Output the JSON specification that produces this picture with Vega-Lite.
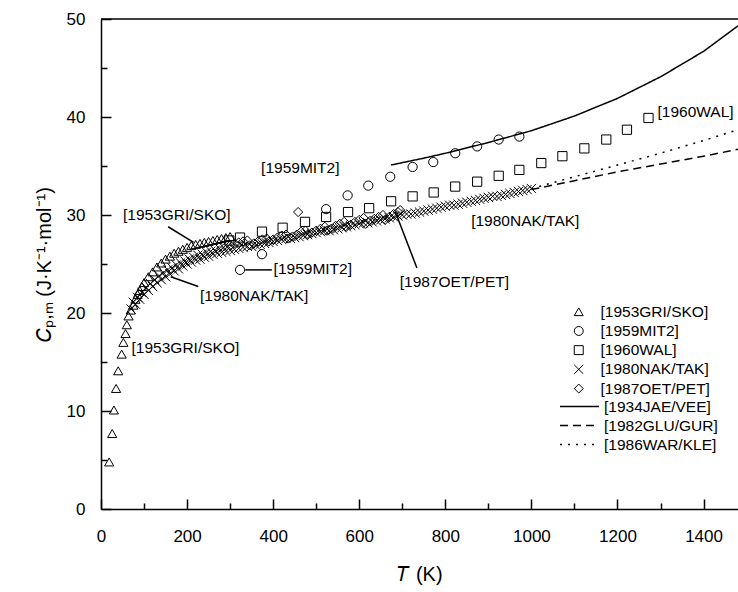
{
"$schema":"https://vega.github.io/schema/vega-lite/v6.json",
"width":637,"height":490,"autosize":"none",
"padding":{"left":101,"top":19,"right":0,"bottom":83},
"config":{"view":{"stroke":null},"font":"Liberation Sans",
"axis":{"domainColor":"black","domainWidth":1.5,"tickColor":"black","tickWidth":1.5,"labelColor":"black","labelFont":"Liberation Sans","labelFontSize":17,"titleFont":"Liberation Sans","titleFontSize":20,"titleFontWeight":"normal","titleColor":"black","grid":false}},
"datasets":{
"pts":[
{"s":"[1953GRI/SKO]","T":19,"C":4.8},{"s":"[1953GRI/SKO]","T":26,"C":7.7},{"s":"[1953GRI/SKO]","T":30,"C":10.1},{"s":"[1953GRI/SKO]","T":35,"C":12.3},{"s":"[1953GRI/SKO]","T":40,"C":14.1},{"s":"[1953GRI/SKO]","T":48,"C":15.8},{"s":"[1953GRI/SKO]","T":52,"C":17.0},{"s":"[1953GRI/SKO]","T":57,"C":17.9},{"s":"[1953GRI/SKO]","T":60,"C":18.8},{"s":"[1953GRI/SKO]","T":64,"C":19.7},{"s":"[1953GRI/SKO]","T":69,"C":20.3},{"s":"[1953GRI/SKO]","T":75,"C":20.8},{"s":"[1953GRI/SKO]","T":80,"C":21.4},{"s":"[1953GRI/SKO]","T":85,"C":21.9},{"s":"[1953GRI/SKO]","T":90,"C":22.3},{"s":"[1953GRI/SKO]","T":95,"C":22.7},{"s":"[1953GRI/SKO]","T":100,"C":23.1},{"s":"[1953GRI/SKO]","T":110,"C":23.7},{"s":"[1953GRI/SKO]","T":120,"C":24.2},{"s":"[1953GRI/SKO]","T":130,"C":24.7},{"s":"[1953GRI/SKO]","T":140,"C":25.1},{"s":"[1953GRI/SKO]","T":150,"C":25.5},{"s":"[1953GRI/SKO]","T":160,"C":25.8},{"s":"[1953GRI/SKO]","T":170,"C":26.1},{"s":"[1953GRI/SKO]","T":180,"C":26.3},{"s":"[1953GRI/SKO]","T":190,"C":26.5},{"s":"[1953GRI/SKO]","T":200,"C":26.7},{"s":"[1953GRI/SKO]","T":210,"C":26.9},{"s":"[1953GRI/SKO]","T":220,"C":27.0},{"s":"[1953GRI/SKO]","T":230,"C":27.1},{"s":"[1953GRI/SKO]","T":240,"C":27.2},{"s":"[1953GRI/SKO]","T":250,"C":27.3},{"s":"[1953GRI/SKO]","T":260,"C":27.4},{"s":"[1953GRI/SKO]","T":270,"C":27.5},{"s":"[1953GRI/SKO]","T":280,"C":27.6},{"s":"[1953GRI/SKO]","T":290,"C":27.7},{"s":"[1953GRI/SKO]","T":300,"C":27.8},
{"s":"[1959MIT2]","T":323,"C":24.4},{"s":"[1959MIT2]","T":374,"C":26.0},{"s":"[1959MIT2]","T":523,"C":30.6},{"s":"[1959MIT2]","T":573,"C":32.0},{"s":"[1959MIT2]","T":621,"C":33.0},{"s":"[1959MIT2]","T":672,"C":33.9},{"s":"[1959MIT2]","T":724,"C":34.9},{"s":"[1959MIT2]","T":772,"C":35.4},{"s":"[1959MIT2]","T":823,"C":36.3},{"s":"[1959MIT2]","T":874,"C":37.0},{"s":"[1959MIT2]","T":924,"C":37.7},{"s":"[1959MIT2]","T":972,"C":38.0},
{"s":"[1960WAL]","T":298,"C":27.4},{"s":"[1960WAL]","T":323,"C":27.7},{"s":"[1960WAL]","T":374,"C":28.3},{"s":"[1960WAL]","T":422,"C":28.7},{"s":"[1960WAL]","T":474,"C":29.3},{"s":"[1960WAL]","T":523,"C":29.8},{"s":"[1960WAL]","T":574,"C":30.3},{"s":"[1960WAL]","T":623,"C":30.7},{"s":"[1960WAL]","T":674,"C":31.4},{"s":"[1960WAL]","T":724,"C":31.9},{"s":"[1960WAL]","T":773,"C":32.3},{"s":"[1960WAL]","T":823,"C":32.9},{"s":"[1960WAL]","T":874,"C":33.4},{"s":"[1960WAL]","T":924,"C":34.0},{"s":"[1960WAL]","T":972,"C":34.6},{"s":"[1960WAL]","T":1023,"C":35.3},{"s":"[1960WAL]","T":1072,"C":36.0},{"s":"[1960WAL]","T":1123,"C":36.8},{"s":"[1960WAL]","T":1174,"C":37.7},{"s":"[1960WAL]","T":1222,"C":38.7},{"s":"[1960WAL]","T":1272,"C":39.9},
{"s":"[1980NAK/TAK]","T":70,"C":20.4},{"s":"[1980NAK/TAK]","T":80,"C":20.9},{"s":"[1980NAK/TAK]","T":90,"C":21.4},{"s":"[1980NAK/TAK]","T":100,"C":21.9},{"s":"[1980NAK/TAK]","T":110,"C":22.3},{"s":"[1980NAK/TAK]","T":120,"C":22.7},{"s":"[1980NAK/TAK]","T":130,"C":23.1},{"s":"[1980NAK/TAK]","T":140,"C":23.4},{"s":"[1980NAK/TAK]","T":150,"C":23.7},{"s":"[1980NAK/TAK]","T":160,"C":24.0},{"s":"[1980NAK/TAK]","T":170,"C":24.3},{"s":"[1980NAK/TAK]","T":180,"C":24.5},{"s":"[1980NAK/TAK]","T":190,"C":24.8},{"s":"[1980NAK/TAK]","T":200,"C":25.0},{"s":"[1980NAK/TAK]","T":210,"C":25.2},{"s":"[1980NAK/TAK]","T":220,"C":25.4},{"s":"[1980NAK/TAK]","T":230,"C":25.5},{"s":"[1980NAK/TAK]","T":240,"C":25.7},{"s":"[1980NAK/TAK]","T":250,"C":25.8},{"s":"[1980NAK/TAK]","T":260,"C":26.0},{"s":"[1980NAK/TAK]","T":270,"C":26.1},{"s":"[1980NAK/TAK]","T":280,"C":26.2},{"s":"[1980NAK/TAK]","T":290,"C":26.3},{"s":"[1980NAK/TAK]","T":300,"C":26.4},
{"s":"[1980NAK/TAK]","T":75,"C":21.1},{"s":"[1980NAK/TAK]","T":85,"C":21.6},{"s":"[1980NAK/TAK]","T":95,"C":22.1},{"s":"[1980NAK/TAK]","T":105,"C":22.6},{"s":"[1980NAK/TAK]","T":115,"C":23.0},{"s":"[1980NAK/TAK]","T":125,"C":23.4},{"s":"[1980NAK/TAK]","T":135,"C":23.8},{"s":"[1980NAK/TAK]","T":145,"C":24.1},{"s":"[1980NAK/TAK]","T":155,"C":24.4},{"s":"[1980NAK/TAK]","T":165,"C":24.6},{"s":"[1980NAK/TAK]","T":175,"C":24.9},{"s":"[1980NAK/TAK]","T":185,"C":25.1},{"s":"[1980NAK/TAK]","T":195,"C":25.3},{"s":"[1980NAK/TAK]","T":205,"C":25.5},{"s":"[1980NAK/TAK]","T":215,"C":25.7},{"s":"[1980NAK/TAK]","T":225,"C":25.9},{"s":"[1980NAK/TAK]","T":235,"C":26.0},{"s":"[1980NAK/TAK]","T":245,"C":26.2},{"s":"[1980NAK/TAK]","T":255,"C":26.3},{"s":"[1980NAK/TAK]","T":265,"C":26.4},{"s":"[1980NAK/TAK]","T":275,"C":26.6},{"s":"[1980NAK/TAK]","T":285,"C":26.7},{"s":"[1980NAK/TAK]","T":295,"C":26.8},
{"s":"[1980NAK/TAK]","T":310,"C":26.5},{"s":"[1980NAK/TAK]","T":320,"C":26.6},{"s":"[1980NAK/TAK]","T":330,"C":26.7},{"s":"[1980NAK/TAK]","T":340,"C":26.8},{"s":"[1980NAK/TAK]","T":350,"C":26.8},{"s":"[1980NAK/TAK]","T":360,"C":26.9},{"s":"[1980NAK/TAK]","T":370,"C":27.0},{"s":"[1980NAK/TAK]","T":380,"C":27.1},{"s":"[1980NAK/TAK]","T":390,"C":27.2},{"s":"[1980NAK/TAK]","T":400,"C":27.3},{"s":"[1980NAK/TAK]","T":410,"C":27.4},{"s":"[1980NAK/TAK]","T":420,"C":27.5},{"s":"[1980NAK/TAK]","T":430,"C":27.6},{"s":"[1980NAK/TAK]","T":440,"C":27.6},{"s":"[1980NAK/TAK]","T":450,"C":27.7},{"s":"[1980NAK/TAK]","T":460,"C":27.8},{"s":"[1980NAK/TAK]","T":470,"C":27.9},{"s":"[1980NAK/TAK]","T":480,"C":28.0},{"s":"[1980NAK/TAK]","T":490,"C":28.1},{"s":"[1980NAK/TAK]","T":500,"C":28.2},{"s":"[1980NAK/TAK]","T":510,"C":28.3},{"s":"[1980NAK/TAK]","T":520,"C":28.4},{"s":"[1980NAK/TAK]","T":530,"C":28.4},{"s":"[1980NAK/TAK]","T":540,"C":28.5},{"s":"[1980NAK/TAK]","T":550,"C":28.6},{"s":"[1980NAK/TAK]","T":560,"C":28.7},{"s":"[1980NAK/TAK]","T":570,"C":28.8},{"s":"[1980NAK/TAK]","T":580,"C":28.9},{"s":"[1980NAK/TAK]","T":590,"C":29.0},{"s":"[1980NAK/TAK]","T":600,"C":29.1},{"s":"[1980NAK/TAK]","T":610,"C":29.2},{"s":"[1980NAK/TAK]","T":620,"C":29.2},{"s":"[1980NAK/TAK]","T":630,"C":29.3},{"s":"[1980NAK/TAK]","T":640,"C":29.4},{"s":"[1980NAK/TAK]","T":650,"C":29.5},{"s":"[1980NAK/TAK]","T":660,"C":29.6},{"s":"[1980NAK/TAK]","T":670,"C":29.7},{"s":"[1980NAK/TAK]","T":680,"C":29.8},{"s":"[1980NAK/TAK]","T":690,"C":29.9},{"s":"[1980NAK/TAK]","T":700,"C":30.0},{"s":"[1980NAK/TAK]","T":710,"C":30.1},{"s":"[1980NAK/TAK]","T":720,"C":30.1},{"s":"[1980NAK/TAK]","T":730,"C":30.2},{"s":"[1980NAK/TAK]","T":740,"C":30.3},{"s":"[1980NAK/TAK]","T":750,"C":30.4},{"s":"[1980NAK/TAK]","T":760,"C":30.5},{"s":"[1980NAK/TAK]","T":770,"C":30.6},{"s":"[1980NAK/TAK]","T":780,"C":30.7},{"s":"[1980NAK/TAK]","T":790,"C":30.8},{"s":"[1980NAK/TAK]","T":800,"C":30.9},{"s":"[1980NAK/TAK]","T":810,"C":31.0},{"s":"[1980NAK/TAK]","T":820,"C":31.0},{"s":"[1980NAK/TAK]","T":830,"C":31.1},{"s":"[1980NAK/TAK]","T":840,"C":31.2},{"s":"[1980NAK/TAK]","T":850,"C":31.3},{"s":"[1980NAK/TAK]","T":860,"C":31.4},{"s":"[1980NAK/TAK]","T":870,"C":31.5},{"s":"[1980NAK/TAK]","T":880,"C":31.6},{"s":"[1980NAK/TAK]","T":890,"C":31.7},{"s":"[1980NAK/TAK]","T":900,"C":31.8},{"s":"[1980NAK/TAK]","T":910,"C":31.9},{"s":"[1980NAK/TAK]","T":920,"C":31.9},{"s":"[1980NAK/TAK]","T":930,"C":32.0},{"s":"[1980NAK/TAK]","T":940,"C":32.1},{"s":"[1980NAK/TAK]","T":950,"C":32.2},{"s":"[1980NAK/TAK]","T":960,"C":32.3},{"s":"[1980NAK/TAK]","T":970,"C":32.4},{"s":"[1980NAK/TAK]","T":980,"C":32.5},{"s":"[1980NAK/TAK]","T":990,"C":32.6},{"s":"[1980NAK/TAK]","T":1000,"C":32.7},
{"s":"[1987OET/PET]","T":300,"C":26.9},{"s":"[1987OET/PET]","T":310,"C":27.1},{"s":"[1987OET/PET]","T":320,"C":27.2},{"s":"[1987OET/PET]","T":330,"C":27.3},{"s":"[1987OET/PET]","T":340,"C":27.4},{"s":"[1987OET/PET]","T":345,"C":26.9},{"s":"[1987OET/PET]","T":355,"C":27.1},{"s":"[1987OET/PET]","T":365,"C":27.3},{"s":"[1987OET/PET]","T":375,"C":27.5},{"s":"[1987OET/PET]","T":385,"C":27.6},{"s":"[1987OET/PET]","T":390,"C":27.3},{"s":"[1987OET/PET]","T":400,"C":27.5},{"s":"[1987OET/PET]","T":410,"C":27.7},{"s":"[1987OET/PET]","T":420,"C":27.9},{"s":"[1987OET/PET]","T":430,"C":28.0},{"s":"[1987OET/PET]","T":435,"C":27.6},{"s":"[1987OET/PET]","T":445,"C":27.8},{"s":"[1987OET/PET]","T":455,"C":28.0},{"s":"[1987OET/PET]","T":465,"C":28.3},{"s":"[1987OET/PET]","T":475,"C":28.4},{"s":"[1987OET/PET]","T":458,"C":30.3},{"s":"[1987OET/PET]","T":480,"C":28.0},{"s":"[1987OET/PET]","T":490,"C":28.2},{"s":"[1987OET/PET]","T":500,"C":28.4},{"s":"[1987OET/PET]","T":510,"C":28.6},{"s":"[1987OET/PET]","T":520,"C":28.8},{"s":"[1987OET/PET]","T":525,"C":28.4},{"s":"[1987OET/PET]","T":535,"C":28.6},{"s":"[1987OET/PET]","T":545,"C":28.9},{"s":"[1987OET/PET]","T":555,"C":29.1},{"s":"[1987OET/PET]","T":565,"C":29.3},{"s":"[1987OET/PET]","T":570,"C":28.8},{"s":"[1987OET/PET]","T":580,"C":29.0},{"s":"[1987OET/PET]","T":590,"C":29.3},{"s":"[1987OET/PET]","T":600,"C":29.5},{"s":"[1987OET/PET]","T":610,"C":29.7},{"s":"[1987OET/PET]","T":615,"C":29.1},{"s":"[1987OET/PET]","T":625,"C":29.4},{"s":"[1987OET/PET]","T":635,"C":29.6},{"s":"[1987OET/PET]","T":645,"C":29.8},{"s":"[1987OET/PET]","T":655,"C":30.0},{"s":"[1987OET/PET]","T":660,"C":29.5},{"s":"[1987OET/PET]","T":670,"C":29.8},{"s":"[1987OET/PET]","T":680,"C":30.1},{"s":"[1987OET/PET]","T":690,"C":30.3},{"s":"[1987OET/PET]","T":695,"C":30.5}
],
"lines":[
{"s":"[1934JAE/VEE]","T":674,"C":35.1},{"s":"[1934JAE/VEE]","T":750,"C":35.8},{"s":"[1934JAE/VEE]","T":800,"C":36.3},{"s":"[1934JAE/VEE]","T":900,"C":37.4},{"s":"[1934JAE/VEE]","T":1000,"C":38.6},{"s":"[1934JAE/VEE]","T":1100,"C":40.1},{"s":"[1934JAE/VEE]","T":1200,"C":41.9},{"s":"[1934JAE/VEE]","T":1300,"C":44.1},{"s":"[1934JAE/VEE]","T":1400,"C":46.7},{"s":"[1934JAE/VEE]","T":1480,"C":49.3},
{"s":"[1982GLU/GUR]","T":1000,"C":32.6},{"s":"[1982GLU/GUR]","T":1100,"C":33.5},{"s":"[1982GLU/GUR]","T":1200,"C":34.4},{"s":"[1982GLU/GUR]","T":1300,"C":35.2},{"s":"[1982GLU/GUR]","T":1400,"C":36.0},{"s":"[1982GLU/GUR]","T":1480,"C":36.7},
{"s":"[1986WAR/KLE]","T":1000,"C":32.7},{"s":"[1986WAR/KLE]","T":1100,"C":33.9},{"s":"[1986WAR/KLE]","T":1200,"C":35.1},{"s":"[1986WAR/KLE]","T":1300,"C":36.3},{"s":"[1986WAR/KLE]","T":1400,"C":37.6},{"s":"[1986WAR/KLE]","T":1480,"C":38.7}
],
"ann":[
{"label":"[1953GRI/SKO]","T":51,"C":30.0},{"label":"[1980NAK/TAK]","T":230,"C":21.7},{"label":"[1959MIT2]","T":401,"C":24.5},{"label":"[1953GRI/SKO]","T":71,"C":16.4},{"label":"[1959MIT2]","T":372,"C":34.8},{"label":"[1960WAL]","T":1293,"C":40.5},{"label":"[1980NAK/TAK]","T":860,"C":29.4},{"label":"[1987OET/PET]","T":694,"C":23.2}
],
"lead":[
{"T":156,"C":28.8,"T2":215,"C2":27.2},{"T":162,"C":23.7,"T2":226,"C2":22.7},{"T":335,"C":24.4,"T2":397,"C2":24.4},{"T":734,"C":24.6,"T2":684,"C2":30.3}
]
},
"layer":[
{"data":{"name":"pts"},"mark":{"type":"point","opacity":0},
"encoding":{
"x":{"field":"T","type":"quantitative","scale":{"domain":[0,1480],"nice":false,"zero":false},"axis":{"orient":"bottom","values":[100,300,500,700,900,1100,1300],"tickSize":-6,"labels":false,"domain":false,"title":null}},
"y":{"field":"C","type":"quantitative","scale":{"domain":[0,50],"nice":false},"axis":{"orient":"left","values":[5,15,25,35,45],"tickSize":-6,"labels":false,"domain":false,"title":null}}}},
{"data":{"name":"pts"},"mark":{"type":"point","filled":false,"strokeWidth":1,"size":85,"color":"black","opacity":1},
"encoding":{
"x":{"field":"T","type":"quantitative","axis":{"orient":"bottom","values":[0,200,400,600,800,1000,1200,1400],"format":"d","tickSize":-10,"labelPadding":29,"labelFlush":false,"labelOverlap":false,"title":"𝑇 (K)","titlePadding":20}},
"y":{"field":"C","type":"quantitative","axis":{"orient":"left","values":[0,10,20,30,40,50],"format":"d","tickSize":-10,"labelPadding":26,"labelOverlap":false,"title":"𝐶ₚ,ₘ (J·K⁻¹·mol⁻¹)","titlePadding":12}},
"shape":{"field":"s","type":"nominal","scale":{"domain":["[1953GRI/SKO]","[1959MIT2]","[1960WAL]","[1980NAK/TAK]","[1987OET/PET]"],"range":["triangle-up","circle","square","M-1,-1L1,1M-1,1L1,-1","diamond"]},
"legend":{"orient":"none","legendX":470,"legendY":285,"title":null,"labelFontSize":15.5,"labelColor":"black","labelFont":"Liberation Sans","symbolStrokeColor":"black","symbolStrokeWidth":1,"symbolSize":80,"symbolFillColor":"transparent","rowPadding":2.2,"labelOffset":14,"padding":0}}}},
{"data":{"name":"lines"},"mark":{"type":"line","color":"black","strokeWidth":1.5},
"encoding":{"x":{"field":"T","type":"quantitative","axis":null},"y":{"field":"C","type":"quantitative","axis":null},
"strokeDash":{"field":"s","type":"nominal","scale":{"domain":["[1934JAE/VEE]","[1982GLU/GUR]","[1986WAR/KLE]"],"range":[[1,0],[8,5],[2,6]]},
"legend":{"orient":"none","legendX":468,"legendY":377,"title":null,"labelFontSize":15.5,"labelColor":"black","labelFont":"Liberation Sans","symbolType":"M-2,0L2,0","symbolStrokeColor":"black","symbolStrokeWidth":1.5,"symbolSize":380,"rowPadding":0,"labelOffset":14,"padding":0}}}},
{"data":{"values":[{}]},"mark":{"type":"rule","color":"black","strokeWidth":1.5},"encoding":{"y":{"datum":50,"type":"quantitative","axis":null}}},
{"data":{"name":"ann"},"mark":{"type":"text","align":"left","baseline":"middle","fontSize":15.5,"font":"Liberation Sans","color":"black"},
"encoding":{"x":{"field":"T","type":"quantitative","axis":null},"y":{"field":"C","type":"quantitative","axis":null},"text":{"field":"label"}}},
{"data":{"name":"lead"},"mark":{"type":"rule","color":"black","strokeWidth":1.5},
"encoding":{"x":{"field":"T","type":"quantitative","axis":null},"y":{"field":"C","type":"quantitative","axis":null},"x2":{"field":"T2"},"y2":{"field":"C2"}}}
],
"resolve":{"axis":{"x":"independent","y":"independent"},"legend":{"shape":"independent","strokeDash":"independent"}}
}
